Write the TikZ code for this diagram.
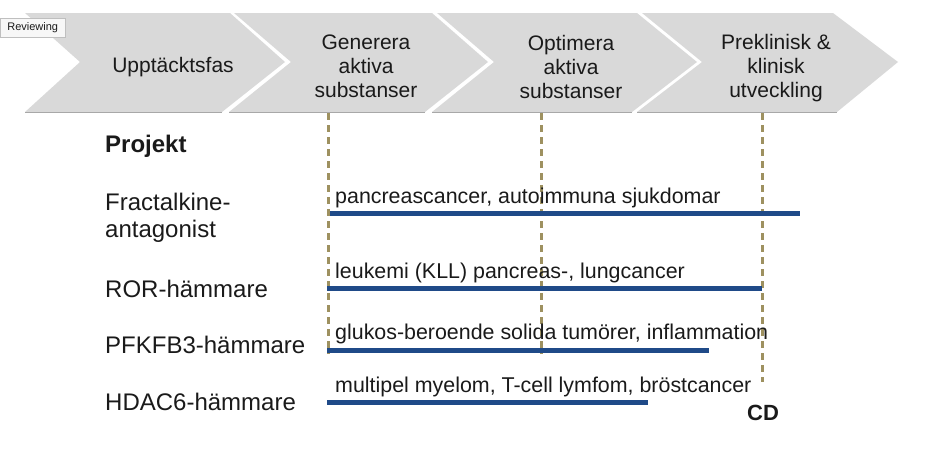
\documentclass[tikz,border=0pt]{standalone}
\usepackage{fontspec}
\setmainfont{Liberation Sans}
\definecolor{chev}{HTML}{D9D9D9}
\definecolor{chevedge}{HTML}{A8A8A8}
\definecolor{dashc}{HTML}{9E9160}
\definecolor{barc}{HTML}{1F4A88}
\definecolor{txt}{HTML}{1A1A1A}
\begin{document}
\begin{tikzpicture}[x=1pt,y=-1pt,
  chevron/.style={fill=chev},
  chevbottom/.style={draw=chevedge,line width=1pt},
  phase/.style={font=\fontsize{21}{24}\selectfont,text=txt,align=center,inner sep=0pt,anchor=base},
  proj/.style={font=\fontsize{24}{27}\selectfont,text=txt,align=left,inner sep=0pt,anchor=base west},
  barlabel/.style={font=\fontsize{21.4}{24}\selectfont,text=txt,inner sep=0pt,anchor=base west},
  guide/.style={draw=dashc,line width=3pt,dash pattern=on 7pt off 5pt},
  bar/.style={draw=barc,line width=5pt}]
\useasboundingbox (0,0) rectangle (925,455);
% chevrons
\fill[chevron] (25,13) -- (230,13) -- (285,62) -- (222,112) -- (25,112) -- (80,62) -- cycle;
\fill[chevron] (234,13) -- (432,13) -- (488,62) -- (425,112) -- (229,112) -- (291,62) -- cycle;
\fill[chevron] (437,13) -- (637,13) -- (697,62) -- (632,112) -- (432,112) -- (494,62) -- cycle;
\fill[chevron] (642,13) -- (833,13) -- (898,62) -- (837,112) -- (637,112) -- (702,62) -- cycle;
\draw[chevbottom] (25,112) -- (222,112);
\draw[chevbottom] (229,112) -- (425,112);
\draw[chevbottom] (432,112) -- (632,112);
\draw[chevbottom] (637,112) -- (837,112);
% phase labels (base = last line baseline)
\node[phase] (p1) at (173,72) {Upptäcktsfas};
\node[phase] (p2) at (366,97) {Generera\\aktiva\\substanser};
\node[phase] (p3) at (571,98) {Optimera\\aktiva\\substanser};
\node[phase] (p4) at (776,97) {Preklinisk \&\\klinisk\\utveckling};
% reviewing tag
\node[draw=black!25,fill=black!3,font=\fontsize{11}{13}\selectfont,text=txt,
  minimum width=65pt,minimum height=19pt,inner sep=0pt,anchor=north west] (rev) at (0,18) {Reviewing};
% dashed guides
\coordinate (d1t) at (328,113); \coordinate (d1b) at (328,354);
\coordinate (d2t) at (541,113); \coordinate (d2b) at (541,354);
\coordinate (d3t) at (762,113); \coordinate (d3b) at (762,382);
\draw[guide] (d1t) -- (d1b);
\draw[guide] (d2t) -- (d2b);
\draw[guide] (d3t) -- (d3b);
% project labels
\node[proj,font=\fontsize{24}{27}\selectfont\bfseries] (hdr) at (105,152) {Projekt};
\node[proj] (fr) at (105,237) {Fractalkine-\\antagonist};
\node[proj] (ror) at (105,297) {ROR-hämmare};
\node[proj] (pfk) at (105,353) {PFKFB3-hämmare};
\node[proj] (hd) at (105,410) {HDAC6-hämmare};
% bars
\coordinate (b1s) at (330,213); \coordinate (b1e) at (800,213);
\coordinate (b2s) at (327,288); \coordinate (b2e) at (762,288);
\coordinate (b3s) at (327,350); \coordinate (b3e) at (709,350);
\coordinate (b4s) at (327,402); \coordinate (b4e) at (648,402);
\draw[bar] (b1s) -- (b1e);
\draw[bar] (b2s) -- (b2e);
\draw[bar] (b3s) -- (b3e);
\draw[bar] (b4s) -- (b4e);
\node[barlabel] (l1) at (335,203) {pancreascancer, autoimmuna sjukdomar};
\node[barlabel] (l2) at (335,278) {leukemi (KLL) pancreas-, lungcancer};
\node[barlabel] (l3) at (335,339) {glukos-beroende solida tumörer, inflammation};
\node[barlabel] (l4) at (335,392) {multipel myelom, T-cell lymfom, bröstcancer};
% CD
\node[font=\fontsize{22}{26}\selectfont\bfseries,text=txt,inner sep=0pt,anchor=base] (cd) at (763,420) {CD};
\end{tikzpicture}
\end{document}
